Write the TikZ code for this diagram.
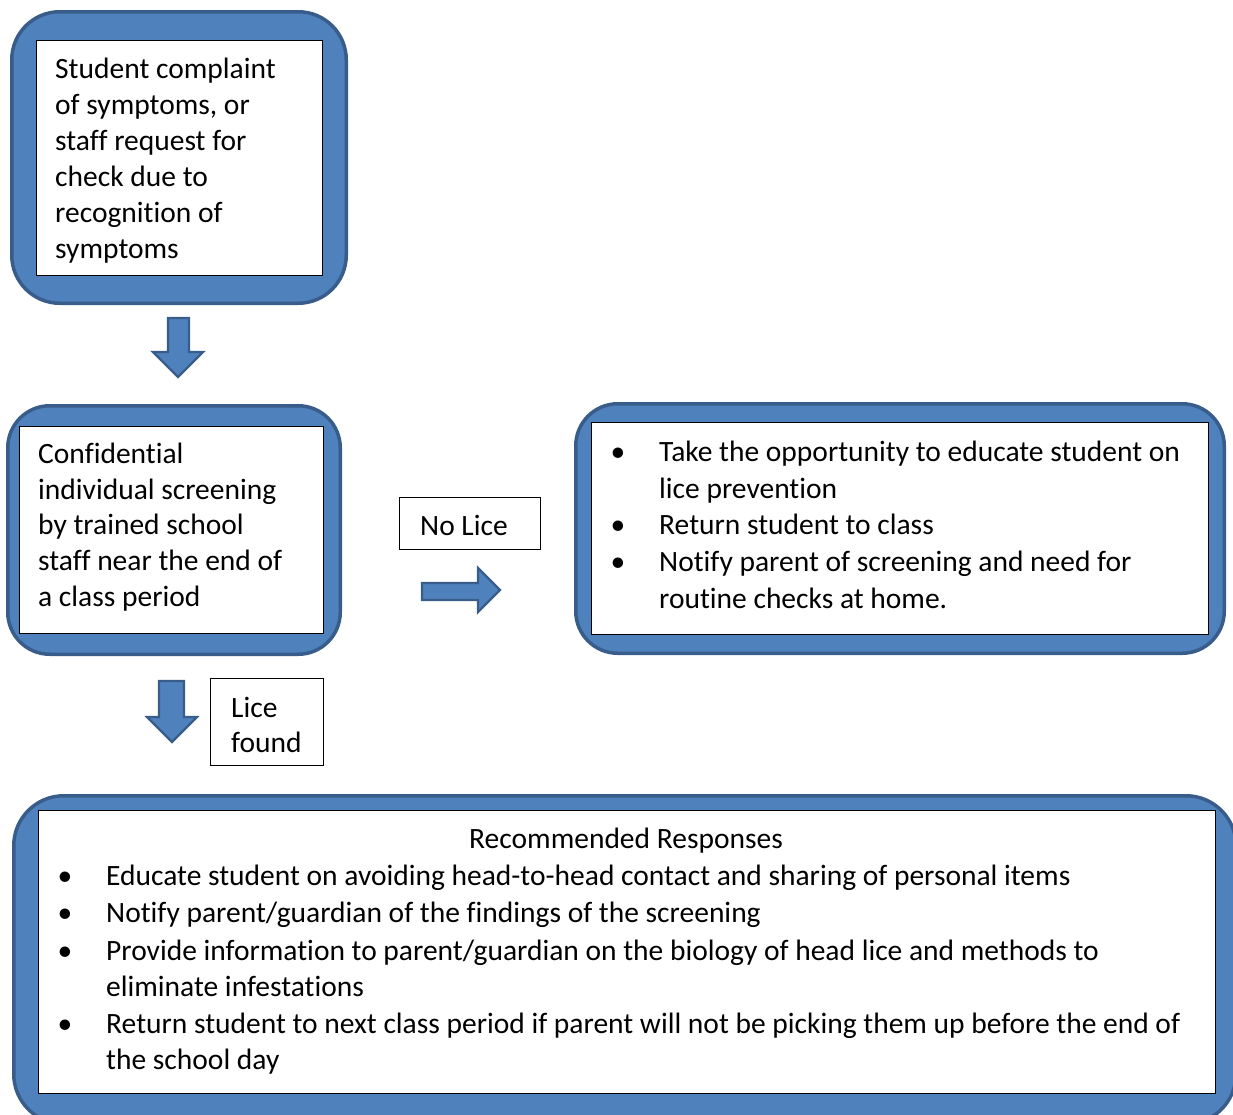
\documentclass[tikz,border=0pt]{standalone}
\usepackage{fontspec}
\setmainfont{Carlito}[Ligatures={NoCommon}]
\usetikzlibrary{fit}
\definecolor{ofblue}{HTML}{4F81BD}
\definecolor{ofdark}{HTML}{385D8A}
\tikzset{
  outerbox/.style={draw=ofdark, fill=ofblue, line width=3.5pt, inner sep=0pt},
  innerbox/.style={draw=black, fill=white, line width=1pt, inner sep=0pt},
  labelbox/.style={draw=black, fill=white, line width=1pt, inner sep=0pt},
  blockarrow/.style={draw=ofdark, fill=ofblue, line width=2.2pt, line join=miter},
  txt/.style={font=\fontsize{29.5}{36}\selectfont, align=left, inner sep=0pt, anchor=base west},
  ctxt/.style={font=\fontsize{29.5}{36}\selectfont, inner sep=0pt, anchor=base},
  bul/.style={font=\fontsize{29.5}{36}\selectfont, inner sep=0pt, anchor=base},
}
\begin{document}
\begin{tikzpicture}[x=1pt,y=-1pt]
\useasboundingbox (0,0) rectangle (1233,1114);
\clip (0,0) rectangle (1233,1114);
% box 1
\node[outerbox, rounded corners=48pt, fit={(11.75,11.75) (346.25,303.25)}] (out1) {};
\node[innerbox, fit={(36,40) (322,275)}] (in1) {};
% anchor = baseline of the last line
\node[txt] (t1) at (55,258) {Student complaint\\of symptoms, or\\staff request for\\check due to\\recognition of\\symptoms};
% arrow 1
\draw[blockarrow] (168,318) -- (189,318) -- (189,352) -- (203,352) -- (178,377) -- (153,352) -- (168,352) -- cycle;
% box 2
\node[outerbox, rounded corners=42pt, fit={(7.75,405.75) (340.25,654.25)}] (out2) {};
\node[innerbox, fit={(19,426) (323,633)}] (in2) {};
\node[txt, font=\fontsize{29.5}{35.6}\selectfont] (t2) at (38,606) {Confidential\\individual screening\\by trained school\\staff near the end of\\a class period};
% no lice label
\node[labelbox, fit={(399,497) (540,549)}] (nolice) {};
\node[txt] (tnl) at (420,535) {No Lice};
% arrow right
\draw[blockarrow] (422,583) -- (478,583) -- (478,568) -- (500,590) -- (478,612) -- (478,600) -- (422,600) -- cycle;
% box 3
\node[outerbox, rounded corners=42pt, fit={(575.75,403.75) (1224.25,653.25)}] (out3) {};
\node[innerbox, fit={(591,422) (1208,634)}] (in3) {};
\node[bul] (b31) at (618,461) {•};
\node[txt, font=\fontsize{29.5}{37}\selectfont] (t31) at (659,498) {Take the opportunity to educate student on\\lice prevention};
\node[bul] (b32) at (618,534) {•};
\node[txt] (t32) at (659,534) {Return student to class};
\node[bul] (b33) at (618,571) {•};
\node[txt, font=\fontsize{29.5}{37}\selectfont] (t33) at (659,608) {Notify parent of screening and need for\\routine checks at home.};
% arrow 2
\draw[blockarrow] (159,681) -- (184,681) -- (184,717) -- (197,717) -- (172,742) -- (147,717) -- (159,717) -- cycle;
% lice found label
\node[labelbox, fit={(210,678) (323,765)}] (licefound) {};
\node[txt, font=\fontsize{29.5}{35}\selectfont] (tlf) at (231,752) {Lice\\found};
% box 4
\node[outerbox, rounded corners=50pt, fit={(13.75,795.75) (1236,1124)}] (out4) {};
\node[innerbox, fit={(38,810) (1215,1093)}] (in4) {};
\node[ctxt] (t40) at (626,848) {Recommended Responses};
\node[bul] (b41) at (65,885) {•};
\node[txt] (t41) at (106,885) {Educate student on avoiding head-to-head contact and sharing of personal items};
\node[bul] (b42) at (65,922) {•};
\node[txt] (t42) at (106,922) {Notify parent/guardian of the findings of the screening};
\node[bul] (b43) at (65,960) {•};
\node[txt] (t43) at (106,996) {Provide information to parent/guardian on the biology of head lice and methods to\\eliminate infestations};
\node[bul] (b44) at (65,1033) {•};
\node[txt] (t44) at (106,1069) {Return student to next class period if parent will not be picking them up before the end of\\the school day};
\end{tikzpicture}
\end{document}
